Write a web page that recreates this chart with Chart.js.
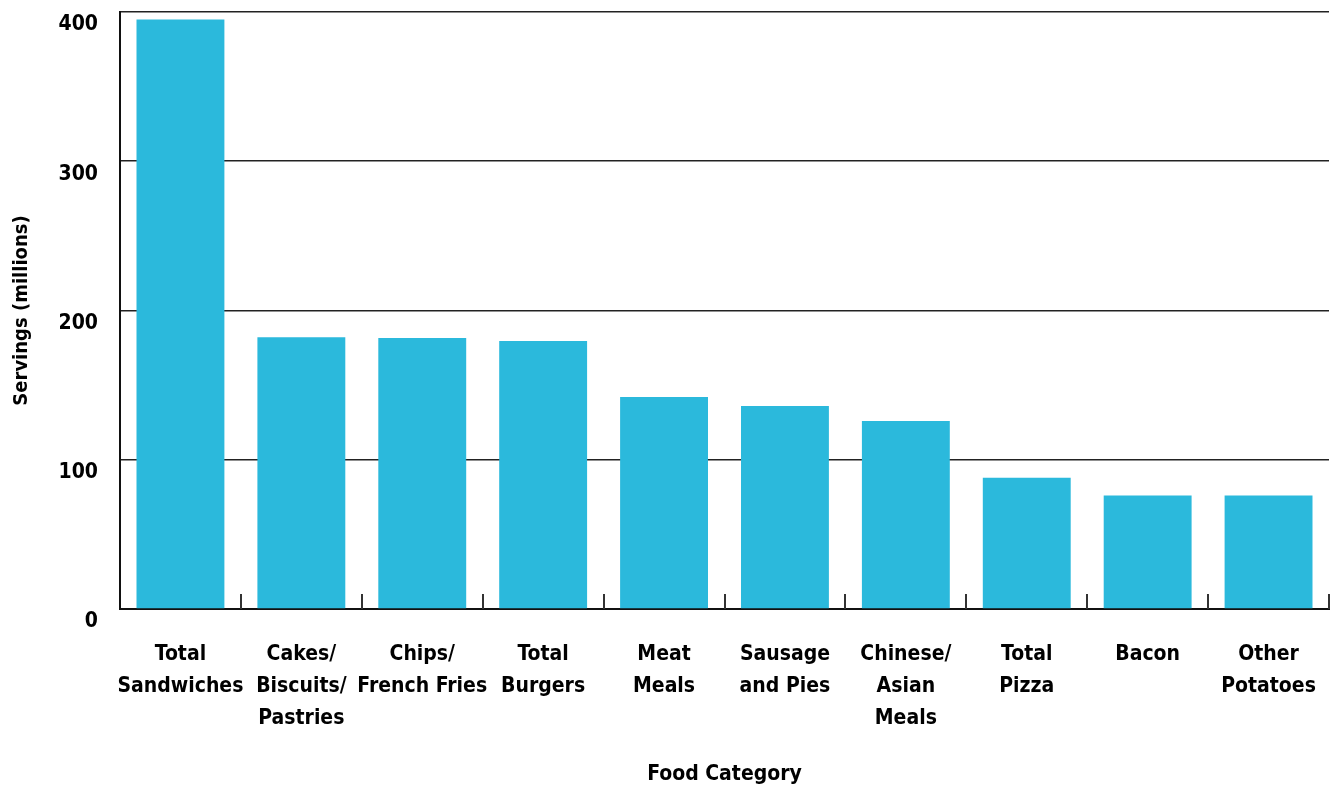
<!DOCTYPE html>
<html>
<head>
<meta charset="utf-8">
<script src="https://cdn.jsdelivr.net/npm/chart.js@4"></script>
<style>
  html, body { margin: 0; padding: 0; background: #fff; }
  #wrap { width: 1333px; height: 791px; position: relative; }
</style>
</head>
<body>
<div id="wrap"><canvas id="servingsChart"></canvas></div>
<script>
// 食品类别及份数（百万）
const categories = [
  ['Total', 'Sandwiches'],
  ['Cakes/', 'Biscuits/', 'Pastries'],
  ['Chips/', 'French Fries'],
  ['Total', 'Burgers'],
  ['Meat', 'Meals'],
  ['Sausage', 'and Pies'],
  ['Chinese/', 'Asian', 'Meals'],
  ['Total', 'Pizza'],
  'Bacon',
  ['Other', 'Potatoes']
];
const servings = [395, 182, 181.5, 179.5, 142, 136, 126, 88, 76, 76];
const yTicks = [0, 100, 200, 300, 400];

const FONT = '"Liberation Sans Narrow", "DejaVu Sans Condensed", "Arial Narrow", sans-serif';

// 在 x 轴各类别分界处画向上的短刻度
const boundaryTicks = {
  id: 'boundaryTicks',
  afterDatasetsDraw(chart) {
    const x = chart.scales.x;
    const bottom = chart.chartArea.bottom;
    const ctx = chart.ctx;
    ctx.save();
    ctx.strokeStyle = '#333';
    ctx.lineWidth = 2;
    for (let i = 1; i <= categories.length; i++) {
      const px = Math.round(x.getPixelForValue(i - 0.5));
      ctx.beginPath();
      ctx.moveTo(px, bottom);
      ctx.lineTo(px, bottom - 15);
      ctx.stroke();
    }
    ctx.restore();
  }
};

const ctx = document.getElementById('servingsChart').getContext('2d');
new Chart(ctx, {
  type: 'bar',
  data: {
    labels: categories,
    datasets: [{
      data: servings,
      backgroundColor: '#2BB9DC',
      categoryPercentage: 1.0,
      barPercentage: 0.727
    }]
  },
  options: {
    responsive: true,
    maintainAspectRatio: false,
    animation: false,
    layout: { padding: { top: 12, right: 4, left: 0, bottom: 0 } },
    plugins: {
      legend: { display: false },
      tooltip: { enabled: false }
    },
    scales: {
      x: {
        afterFit(scale) {
          scale.height = 182;
          scale.paddingLeft = 0;
          scale.paddingRight = 0;
        },
        grid: { display: false, drawTicks: false },
        border: { display: true, color: '#111', width: 2 },
        ticks: {
          color: '#000',
          padding: 30,
          maxRotation: 0,
          autoSkip: false,
          font: { family: FONT, size: 21, weight: 'bold', lineHeight: 1.52 }
        },
        title: {
          display: true,
          text: 'Food Category',
          color: '#000',
          padding: { top: 0, bottom: 4 },
          font: { family: FONT, size: 21, weight: 'bold' }
        }
      },
      y: {
        min: 0,
        max: 400,
        afterFit(scale) {
          scale.width = 120;
          scale.paddingTop = 0;
          scale.paddingBottom = 0;
        },
        afterBuildTicks(scale) { scale.ticks = yTicks.map(v => ({ value: v })); },
        grid: { color: '#222', lineWidth: 1.6, drawTicks: false },
        border: { display: true, color: '#111', width: 2 },
        ticks: {
          color: '#000',
          padding: 22,
          labelOffset: 13,
          font: { family: FONT, size: 21, weight: 'bold' }
        },
        title: {
          display: true,
          text: 'Servings (millions)',
          color: '#000',
          padding: { top: 10, bottom: 0 },
          font: { family: FONT, size: 20, weight: 'bold' }
        }
      }
    }
  },
  plugins: [boundaryTicks]
});
</script>
</body>
</html>
